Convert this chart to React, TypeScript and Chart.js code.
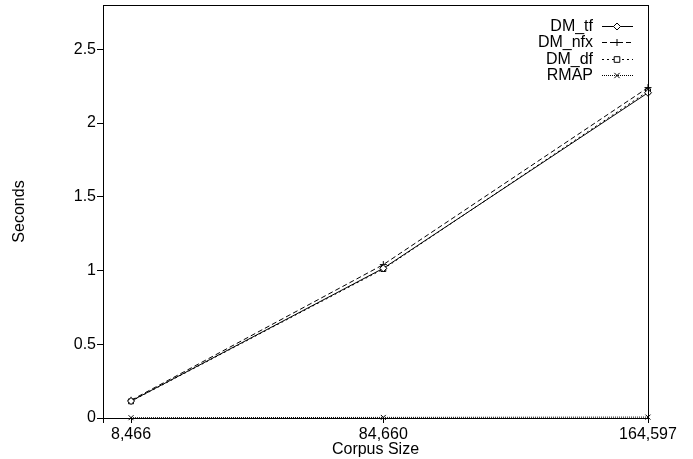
import React, { useEffect, useRef } from "react";
import { Chart, registerables } from "chart.js";

Chart.register(...registerables);

const corpusSizes = [8466, 84660, 164597];
const xTickValues = [0, 8466, 84660, 164597];
const yTickValues = [0, 0.5, 1, 1.5, 2, 2.5];

const seriesLabels = ["DM_tf", "DM_nfx", "DM_df", "RMAP"];
const dmTf = [0.115, 1.015, 2.205];
const dmNfx = [0.12, 1.04, 2.24];
const dmDf = [0.113, 1.01, 2.215];
const rmap = [0.002, 0.004, 0.006];

const FONT = '"Liberation Sans", Arial, Helvetica, sans-serif';

const styles = [
  { dash: [] as number[], point: "rectRot" },
  { dash: [5, 3], point: "cross" },
  { dash: [2, 3], point: "rect" },
  { dash: [1, 1], point: "crossRot" },
];

function drawMarker(ctx: CanvasRenderingContext2D, style: string, x: number, y: number, r: number) {
  ctx.save();
  ctx.setLineDash([]);
  ctx.strokeStyle = "#000";
  ctx.fillStyle = "#fff";
  ctx.lineWidth = 1;
  ctx.beginPath();
  if (style === "rectRot") {
    ctx.moveTo(x, y - r);
    ctx.lineTo(x + r, y);
    ctx.lineTo(x, y + r);
    ctx.lineTo(x - r, y);
    ctx.closePath();
    ctx.fill();
    ctx.stroke();
  } else if (style === "rect") {
    ctx.rect(x - r * 0.8, y - r * 0.8, r * 1.6, r * 1.6);
    ctx.fill();
    ctx.stroke();
  } else if (style === "cross") {
    ctx.moveTo(x - r, y);
    ctx.lineTo(x + r, y);
    ctx.moveTo(x, y - r);
    ctx.lineTo(x, y + r);
    ctx.stroke();
  } else {
    const d = r * 0.75;
    ctx.moveTo(x - d, y - d);
    ctx.lineTo(x + d, y + d);
    ctx.moveTo(x + d, y - d);
    ctx.lineTo(x - d, y + d);
    ctx.stroke();
  }
  ctx.restore();
}

const framePlugin = {
  id: "frameLegend",
  afterDraw(chart: any) {
    const { ctx, chartArea } = chart;
    ctx.save();
    ctx.strokeStyle = "#000";
    ctx.lineWidth = 1;
    ctx.setLineDash([]);
    ctx.strokeRect(
      Math.round(chartArea.left) + 0.5,
      Math.round(chartArea.top) + 0.5,
      Math.round(chartArea.right - chartArea.left),
      Math.round(chartArea.bottom - chartArea.top)
    );
    // legend
    ctx.font = `16px ${FONT}`;
    ctx.textAlign = "right";
    ctx.textBaseline = "middle";
    ctx.fillStyle = "#000";
    chart.data.datasets.forEach((ds: any, i: number) => {
      const y = Math.round(26 + i * 16.3) + 0.5;
      ctx.fillText(ds.label, 593, y);
      ctx.save();
      ctx.setLineDash(styles[i].dash);
      ctx.beginPath();
      ctx.moveTo(602, y);
      ctx.lineTo(633, y);
      ctx.stroke();
      ctx.restore();
      drawMarker(ctx, styles[i].point, 617, y, 3.5);
    });
    ctx.restore();
  },
};

export default function App() {
  const ref = useRef<HTMLCanvasElement>(null);

  useEffect(() => {
    if (!ref.current) return;
    Chart.defaults.font.family = FONT;
    const series = [dmTf, dmNfx, dmDf, rmap];
    const chart = new Chart(ref.current, {
      type: "line",
      data: {
        datasets: series.map((vals, i) => ({
          label: seriesLabels[i],
          data: corpusSizes.map((x, j) => ({ x, y: vals[j] })),
          borderColor: "#000",
          borderWidth: 1,
          borderDash: styles[i].dash,
          pointStyle: styles[i].point as any,
          pointRadius: 3.5,
          pointBorderColor: "#000",
          pointBackgroundColor: "#fff",
          pointBorderWidth: 1,
          fill: false,
          tension: 0,
          clip: false as any,
        })),
      },
      options: {
        animation: false,
        responsive: true,
        maintainAspectRatio: false,
        layout: { padding: { top: 4, right: 45, bottom: 0, left: 0 } },
        plugins: {
          legend: { display: false },
          tooltip: { enabled: false },
        },
        scales: {
          x: {
            type: "linear",
            min: 0,
            max: 164597,
            afterBuildTicks: (axis: any) => {
              axis.ticks = xTickValues.map((v) => ({ value: v }));
            },
            afterFit: (axis: any) => {
              axis.height = 41;
              axis.paddingLeft = 0;
              axis.paddingRight = 0;
            },
            grid: {
              drawOnChartArea: false,
              drawTicks: true,
              tickLength: 5,
              color: "#000",
            },
            border: { display: true, color: "#000" },
            ticks: {
              autoSkip: false,
              maxRotation: 0,
              padding: 2,
              color: "#000",
              font: { size: 16 },
              callback: (v: any) => (v === 0 ? "" : Number(v).toLocaleString("en-US")),
            },
            title: {
              display: true,
              text: "Corpus Size",
              color: "#000",
              font: { size: 16 },
              padding: { top: 0, bottom: 0 },
            },
          },
          y: {
            type: "linear",
            min: 0,
            max: 2.8,
            afterBuildTicks: (axis: any) => {
              axis.ticks = yTickValues.map((v) => ({ value: v }));
            },
            afterFit: (axis: any) => {
              axis.width = 103;
              axis.paddingTop = 0;
              axis.paddingBottom = 0;
            },
            grid: {
              drawOnChartArea: false,
              drawTicks: true,
              tickLength: 6,
              color: "#000",
            },
            border: { display: true, color: "#000" },
            ticks: {
              padding: 1,
              color: "#000",
              font: { size: 16 },
              callback: (v: any) => String(v),
            },
            title: {
              display: true,
              text: "Seconds",
              color: "#000",
              font: { size: 16 },
              padding: { top: 10, bottom: 0 },
            },
          },
        },
      },
      plugins: [framePlugin],
    });
    return () => chart.destroy();
  }, []);

  return (
    <div
      style={{
        position: "fixed",
        left: 0,
        top: 0,
        width: 693,
        height: 459,
        background: "#fff",
      }}
    >
      <canvas ref={ref} />
    </div>
  );
}
